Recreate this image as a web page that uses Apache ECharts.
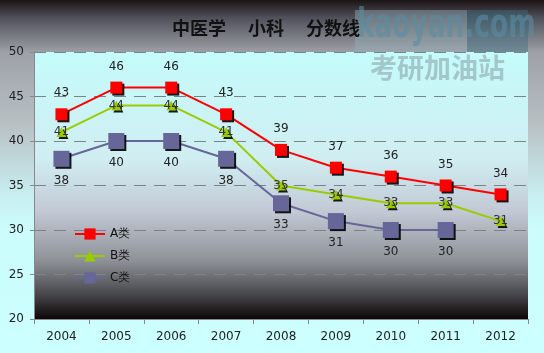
<!DOCTYPE html>
<html><head><meta charset="utf-8">
<script src="https://cdn.jsdelivr.net/npm/echarts@6/dist/echarts.min.js"></script>
<style>html,body{margin:0;padding:0;}#c{width:544px;height:353px;}</style>
</head><body><div id="c"></div>
<script>
var categories = ['2004','2005','2006','2007','2008','2009','2010','2011','2012'];
var seriesA = [43,46,46,43,39,37,36,35,34];
var seriesB = [41,44,44,41,35,34,33,33,31];
var seriesC = [38,40,40,38,33,31,30,30,null];
var yTicks = [20,25,30,35,40,45,50];

var chart = echarts.init(document.getElementById('c'));
var font = '"DejaVu Sans", sans-serif';
var shadow = {shadowColor:'rgba(0,0,0,0.9)', shadowBlur:0, shadowOffsetX:2, shadowOffsetY:2};
chart.setOption({
  animation:false,
  backgroundColor:{type:'linear',x:0,y:0,x2:0,y2:1,colorStops:[
    {offset:0,color:'#1c1414'},{offset:0.05,color:'#50505a'},{offset:0.15,color:'#9ea2a8'},
    {offset:0.35,color:'#b8c0c4'},{offset:0.55,color:'#c8eef0'},{offset:0.65,color:'#ccfcfc'},{offset:1,color:'#ccffff'}]},
  title:{text:'中医学　 小科　 分数线',left:261,textAlign:'center',top:14,
    textStyle:{fontSize:18,fontWeight:'bold',color:'#111',fontFamily:'"Noto Sans CJK SC", sans-serif'}},
  graphic:[
    {type:'rect',left:355,top:10,shape:{width:112,height:42},style:{fill:'rgba(150,175,185,0.45)'},z:1},
    {type:'rect',left:467,top:10,shape:{width:61,height:42},style:{fill:'rgba(60,110,130,0.45)'},z:1},
    {type:'text',x:357,y:7,scaleX:0.66,originX:0,originY:0,style:{text:'kaoyan.com',font:'bold 40px "DejaVu Sans", sans-serif',fill:'rgba(90,140,160,0.6)'},z:2},
    {type:'text',left:370,top:54,style:{text:'考研加油站',font:'bold 27px "Noto Sans CJK SC", sans-serif',fill:'rgba(140,165,170,0.6)'},z:2}
  ],
  grid:{left:34,right:16,top:52,bottom:34,show:true,borderWidth:0,
    backgroundColor:{type:'linear',x:0,y:0,x2:0,y2:1,colorStops:[
      {offset:0,color:'#c4fbfb'},{offset:0.4,color:'#d0eef2'},{offset:0.6,color:'#c2c8d4'},
      {offset:0.78,color:'#8e9298'},{offset:0.9,color:'#4c4c50'},{offset:1,color:'#0c0606'}]}},
  legend:{orient:'vertical',left:69,top:223,itemGap:10,itemWidth:30,itemHeight:14,
    textStyle:{fontSize:12,color:'#111',fontFamily:font},
    data:['A类','B类','C类']},
  xAxis:{type:'category',data:categories,boundaryGap:true,
    axisLine:{lineStyle:{color:'#888',width:1}},
    axisTick:{show:true,length:5,lineStyle:{color:'#888'}},
    axisLabel:{fontSize:12,color:'#222',fontFamily:font,margin:12}},
  yAxis:{type:'value',min:20,max:50,interval:5,
    axisLine:{show:true,lineStyle:{color:'#888'}},
    axisTick:{show:true,length:4,lineStyle:{color:'#888'}},
    axisLabel:{fontSize:12,color:'#222',fontFamily:font,margin:10},
    splitLine:{show:true,lineStyle:{color:'#7a8488',type:[12,8],width:1}}},
  series:[
    {name:'A类',type:'line',data:seriesA,symbol:'rect',symbolSize:12,
      lineStyle:{color:'#ff0000',width:2},itemStyle:Object.assign({color:'#ff0000'},shadow),
      label:{show:true,position:'top',distance:9,fontSize:12,color:'#222',fontFamily:font},z:4},
    {name:'B类',type:'line',data:seriesB,symbol:'triangle',symbolSize:10,
      lineStyle:{color:'#99cc00',width:2},itemStyle:Object.assign({color:'#99cc00'},shadow),
      label:{show:true,position:'inside',fontSize:12,color:'#333',fontFamily:font},z:3},
    {name:'C类',type:'line',data:seriesC,symbol:'rect',symbolSize:16,connectNulls:false,
      lineStyle:{color:'#666699',width:2},itemStyle:Object.assign({color:'#666699'},shadow),
      label:{show:true,position:'bottom',distance:8,fontSize:12,color:'#222',fontFamily:font},z:2}
  ]
});
</script></body></html>
